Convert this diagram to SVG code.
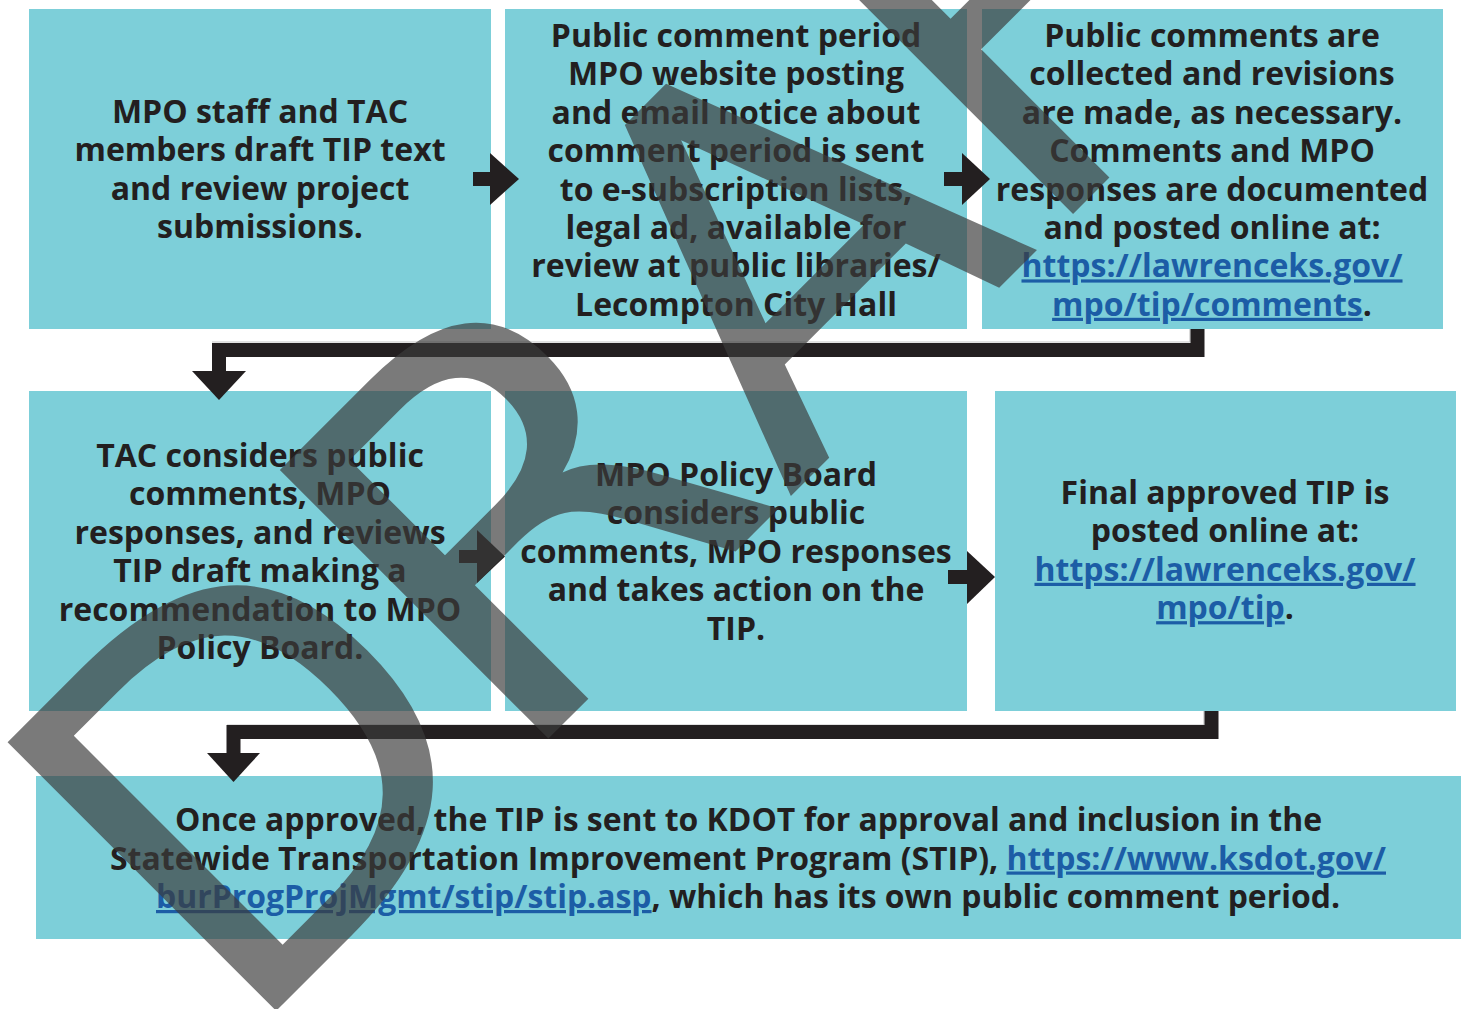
<svg xmlns="http://www.w3.org/2000/svg" width="1464" height="1009" viewBox="0 0 1464 1009">
  <style>
    .box { fill: #7dcfd9; }
    .t { font-family: "Open Sans", "Liberation Sans", sans-serif; font-weight: 700; font-size: 32px; fill: #231f20; text-anchor: middle; }
    .b { font-family: "Open Sans", "Liberation Sans", sans-serif; font-weight: 700; font-size: 32px; fill: #231f20; }
    .lk { fill: #1c5da6; text-decoration: underline; }
    .conn { fill: none; stroke: #231f20; stroke-width: 14; stroke-linejoin: miter; }
    .edge { fill: none; stroke: #c4c4c4; stroke-width: 1.2; }
    .head { fill: #231f20; }
    .wm { font-family: "DejaVu Sans", "Open Sans", sans-serif; font-weight: 400; font-size: 521px; fill: #3b3b3b; fill-opacity: 0.68; }
  </style>
  <rect width="1464" height="1009" fill="#ffffff"/>

  <g id="node1">
    <rect x="29" y="9" width="462" height="320" class="box"/>
    <text class="t" x="260" y="123">MPO staff and TAC</text>
    <text class="t" x="260" y="161.4">members draft TIP text</text>
    <text class="t" x="260" y="199.8">and review project</text>
    <text class="t" x="260" y="238.2">submissions.</text>
  </g>

  <g id="node2">
    <rect x="505" y="9" width="462" height="320" class="box"/>
    <text class="t" x="736" y="47">Public comment period</text>
    <text class="t" x="736" y="85.4">MPO website posting</text>
    <text class="t" x="736" y="123.8">and email notice about</text>
    <text class="t" x="736" y="162.2">comment period is sent</text>
    <text class="t" x="736" y="200.6">to e-subscription lists,</text>
    <text class="t" x="736" y="239">legal ad, available for</text>
    <text class="t" x="736" y="277.4">review at public libraries/</text>
    <text class="t" x="736" y="315.8">Lecompton City Hall</text>
  </g>

  <g id="node3">
    <rect x="982" y="9" width="461" height="320" class="box"/>
    <text class="t" x="1212" y="47">Public comments are</text>
    <text class="t" x="1212" y="85.4">collected and revisions</text>
    <text class="t" x="1212" y="123.8">are made, as necessary.</text>
    <text class="t" x="1212" y="162.2">Comments and MPO</text>
    <text class="t" x="1212" y="200.6">responses are documented</text>
    <text class="t" x="1212" y="239">and posted online at:</text>
    <text class="t" x="1212" y="277.4"><tspan class="lk">https://lawrenceks.gov/</tspan></text>
    <text class="t" x="1212" y="315.8"><tspan class="lk">mpo/tip/comments</tspan>.</text>
  </g>

  <g id="node4">
    <rect x="29" y="391" width="462" height="320" class="box"/>
    <text class="t" x="260" y="467">TAC considers public</text>
    <text class="t" x="260" y="505.4">comments, MPO</text>
    <text class="t" x="260" y="543.8">responses, and reviews</text>
    <text class="t" x="260" y="582.2">TIP draft making a</text>
    <text class="t" x="260" y="620.6">recommendation to MPO</text>
    <text class="t" x="260" y="659">Policy Board.</text>
  </g>

  <g id="node5">
    <rect x="505" y="391" width="462" height="320" class="box"/>
    <text class="t" x="736" y="486">MPO Policy Board</text>
    <text class="t" x="736" y="524.4">considers public</text>
    <text class="t" x="736" y="562.8">comments, MPO responses</text>
    <text class="t" x="736" y="601.2">and takes action on the</text>
    <text class="t" x="736" y="639.6">TIP.</text>
  </g>

  <g id="node6">
    <rect x="995" y="391" width="461" height="320" class="box"/>
    <text class="t" x="1225" y="504">Final approved TIP is</text>
    <text class="t" x="1225" y="542.4">posted online at:</text>
    <text class="t" x="1225" y="580.8"><tspan class="lk">https://lawrenceks.gov/</tspan></text>
    <text class="t" x="1225" y="619.2"><tspan class="lk">mpo/tip</tspan>.</text>
  </g>

  <g id="node7">
    <rect x="36" y="776" width="1425" height="163" class="box"/>
    <text class="b" x="175" y="831" textLength="1147" lengthAdjust="spacingAndGlyphs">Once approved, the TIP is sent to KDOT for approval and inclusion in the</text>
    <text class="b" x="110" y="869.5" textLength="1276" lengthAdjust="spacingAndGlyphs">Statewide Transportation Improvement Program (STIP), <tspan class="lk">https://www.ksdot.gov/</tspan></text>
    <text class="b" x="156" y="908" textLength="1184" lengthAdjust="spacingAndGlyphs"><tspan class="lk">burProgProjMgmt/stip/stip.asp</tspan>, which has its own public comment period.</text>
  </g>

  <g id="connectors">
    <rect x="473" y="172" width="18" height="14" class="head"/>
    <polygon points="490,153 519,179 490,205" class="head"/>
    <rect x="944" y="172" width="19" height="14" class="head"/>
    <polygon points="962,153 990,179 962,205" class="head"/>
    <rect x="459" y="550" width="19" height="13" class="head"/>
    <polygon points="477,530 505,556.5 477,583" class="head"/>
    <rect x="948" y="570" width="20" height="14" class="head"/>
    <polygon points="967,551 995,577 967,604" class="head"/>
    <path d="M1190,329 V342 H212" class="edge"/>
    <path d="M1197.5,329 V350 H219 V372" class="conn"/>
    <polygon points="192,371 246,371 219,400" class="head"/>
    <path d="M1204,711 V725 H227" class="edge"/>
    <path d="M1211.5,711 V732 H233.5 V754" class="conn"/>
    <polygon points="207,753 260,753 233.5,782" class="head"/>
  </g>

  <g id="watermark">
    <text class="wm" transform="translate(240,1047) rotate(-45)"><tspan x="0">D</tspan><tspan x="775">A</tspan><tspan x="1127">F</tspan><tspan x="1427">T</tspan></text>
    <text class="wm" transform="translate(240,1047) rotate(-45) translate(436,0) scale(1.1,1) translate(-436,0)" x="385">R</text>
  </g>
</svg>
